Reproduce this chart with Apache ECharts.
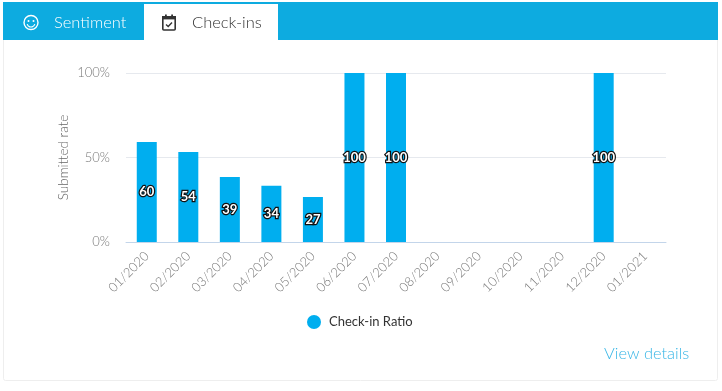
<!DOCTYPE html>
<html><head><meta charset="utf-8">
<style>html,body{margin:0;padding:0;background:#fff}#c{width:722px;height:391px}</style>
<script src="https://cdn.jsdelivr.net/npm/echarts@6/dist/echarts.min.js"></script>
</head><body><div id="c"></div>
<script>
const categories=['01/2020','02/2020','03/2020','04/2020','05/2020','06/2020','07/2020','08/2020','09/2020','10/2020','11/2020','12/2020','01/2021'];
const ratio=[59.2,53.3,38.5,33.3,26.7,100,100,null,null,null,null,100,null];
const seriesName='Check-in Ratio';
const tabs=['Sentiment','Check-ins'];
const linkText='View details';
const yTitle='Submitted rate';
const F='Lato';
const chart=echarts.init(document.getElementById('c'),null,{renderer:'canvas'});
chart.setOption({
 animation:false,
 textStyle:{fontFamily:F},
 grid:{left:126,right:56,top:73,height:169,containLabel:false},
 legend:{show:true,left:302,top:310,itemWidth:14,itemHeight:14,icon:'circle',itemGap:7,
   data:[seriesName],textStyle:{fontFamily:F,fontSize:13,color:'#333',padding:[0,0,0,3]}},
 xAxis:{type:'category',data:categories,
   axisLine:{lineStyle:{color:'#c3d5ea',width:1}},axisTick:{show:false},
   axisLabel:{rotate:45,color:'#777',fontSize:13,fontFamily:F,margin:12,fontWeight:300,interval:0}},
 yAxis:{type:'value',min:0,max:100,interval:50,name:yTitle,nameLocation:'middle',nameGap:55,nameMoveOverlap:false,
   nameTextStyle:{color:'#666',fontSize:13.5,fontFamily:F,fontWeight:300},
   axisLine:{show:false},axisTick:{show:false},
   axisLabel:{formatter:'{value}%',color:'#777',fontSize:13,fontFamily:F,margin:16,fontWeight:300},
   splitLine:{lineStyle:{color:'#e6e9ee',width:1}}},
 series:[{name:seriesName,type:'bar',data:ratio,barWidth:20,itemStyle:{color:'#00aeef'},
   label:{show:true,position:'inside',color:'#fff',fontSize:13,fontFamily:F,fontWeight:700,
     formatter:p=>Math.ceil(p.value),
     textBorderColor:'#111',textBorderWidth:2.5}}],
 graphic:[
  {type:'rect',z:-1,shape:{x:3.5,y:2.5,width:714,height:378,r:2},style:{fill:'#fff',stroke:'#eeeeee',lineWidth:1}},
  {type:'rect',z:10,shape:{x:3,y:2,width:715,height:38},style:{fill:'#0dabe0'}},
  {type:'rect',z:11,shape:{x:144,y:4,width:134,height:37},style:{fill:'#fff'}},
  {type:'text',z:12,left:54,top:14,style:{text:tabs[0],fontFamily:F,fontSize:16.5,fontWeight:300,fill:'#fff'}},
  {type:'text',z:12,left:192,top:14,style:{text:tabs[1],fontFamily:F,fontSize:16.5,fontWeight:300,fill:'#333'}},
  {type:'circle',z:12,shape:{cx:31,cy:22.5,r:7},style:{fill:'none',stroke:'#fff',lineWidth:1.4}},
  {type:'circle',z:12,shape:{cx:28.5,cy:21,r:1},style:{fill:'#fff'}},
  {type:'circle',z:12,shape:{cx:33.5,cy:21,r:1},style:{fill:'#fff'}},
  {type:'arc',z:12,shape:{cx:31,cy:23,r:4,startAngle:0.3,endAngle:Math.PI-0.3},style:{fill:'none',stroke:'#fff',lineWidth:1.2}},
  {type:'rect',z:12,shape:{x:162.8,y:17,width:12.4,height:13,r:1},style:{fill:'none',stroke:'#333',lineWidth:1.6}},
  {type:'rect',z:12,shape:{x:162,y:16,width:14,height:3.4},style:{fill:'#333'}},
  {type:'rect',z:12,shape:{x:165,y:14.5,width:1.8,height:3},style:{fill:'#333'}},
  {type:'rect',z:12,shape:{x:171.2,y:14.5,width:1.8,height:3},style:{fill:'#333'}},
  {type:'polyline',z:12,shape:{points:[[166,24.5],[168.2,26.5],[172,22.5]]},style:{fill:'none',stroke:'#333',lineWidth:1.4}},
  {type:'text',z:12,left:604,top:346,style:{text:linkText,fontFamily:F,fontSize:16.4,fontWeight:300,fill:'#38b6e6'}}
 ]
});
</script></body></html>
